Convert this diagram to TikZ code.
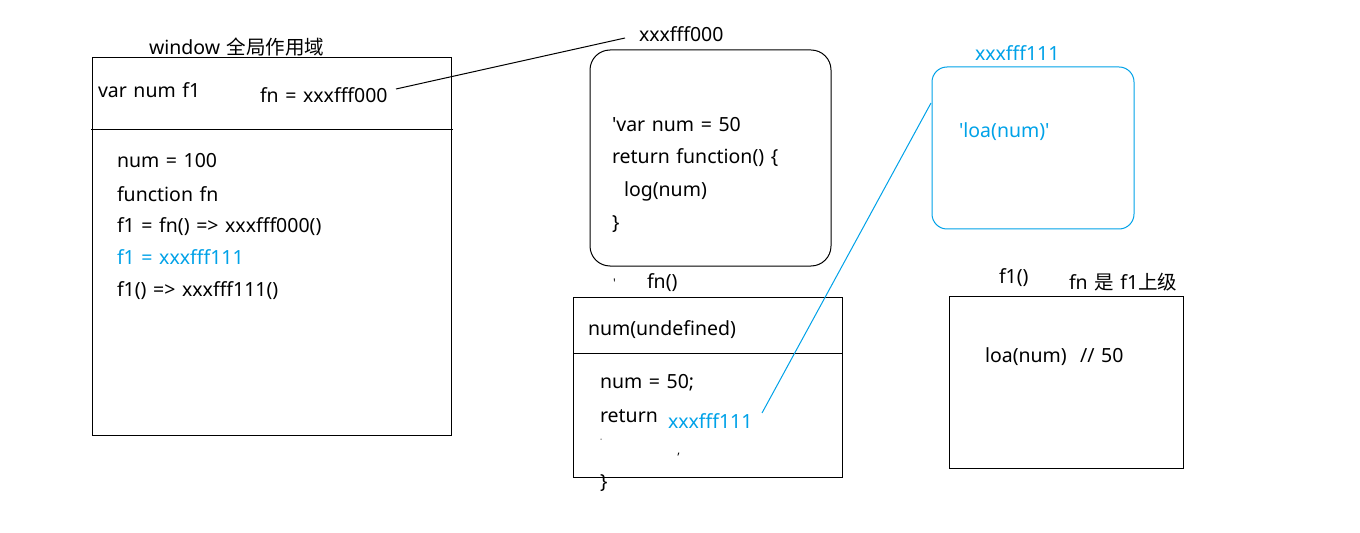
\documentclass[tikz,border=0pt]{standalone}
\usepackage{fontspec}
\newfontfamily\lat{Noto Sans}[WordSpace=1.3]
\newfontfamily\cjk{Noto Sans CJK SC}
\definecolor{paintblue}{RGB}{0,162,232}
\begin{document}
\begin{tikzpicture}[x=1bp,y=-1bp,
  every node/.style={inner sep=0pt,outer sep=0pt,font=\lat\fontsize{19.5bp}{22bp}\selectfont},
  txt/.style={anchor=west},
  bl/.style={txt,text=paintblue},
  box/.style={draw,line width=1bp},
  bbox/.style={draw=paintblue,line width=1bp},
  conn/.style={line width=1bp}]
\useasboundingbox[fill=white] (0,0) rectangle (1360,533);
% window scope
\node[txt] (wt) at (149,47) {window {\cjk 全局作用域}};
\draw[box] (92,58) rectangle (451,435);
\draw[box] (91,130) -- (453,130);
\node[txt] (v1) at (98,90) {var num f1};
\node[txt] (fnx) at (260,95) {fn = xxxfff000};
\node[txt] at (117,161) {num = 100};
\node[txt] at (117,194) {function fn};
\node[txt] at (117,227) {f1 = fn() => xxxfff000()};
\node[bl] at (117,257) {f1 = xxxfff111};
\node[txt] at (117,291) {f1() => xxxfff111()};
% heap xxxfff000
\node[txt] (h0) at (639,34) {xxxfff000};
\draw[box,rounded corners=20bp] (590,50) rectangle (831,266);
\node[txt] at (612,125) {'var num = 50};
\node[txt] at (612,158) {return function() \{};
\node[txt] at (624,191) {log(num)};
\node[txt] at (612,224) {\}};
\coordinate (c0a) at (396,89);
\coordinate (c0b) at (625,38);
\draw[conn] (c0a) -- (c0b);
% fn() scope
\node[txt] at (613,283) {\fontsize{12bp}{12bp}\selectfont '};
\node[txt] at (647,283) {fn()};
\draw[box] (573,297) rectangle (842,477);
\draw[box] (574,353) -- (842,353);
\node[txt] at (588,330) {num(undefined)};
\node[txt] at (600,383) {num = 50;};
\node[txt] at (600,416) {return};
\node[bl] (r1) at (668,421) {xxxfff111};
\node[txt] at (600,441) {\fontsize{8bp}{8bp}\selectfont ·};
\node[txt] at (677,455) {\fontsize{12bp}{12bp}\selectfont ,};
\node[txt] at (600,483) {\}};
% heap xxxfff111
\node[bl] (h1) at (975,53) {xxxfff111};
\draw[bbox,rounded corners=15bp] (932,67) rectangle (1134,229);
\node[bl] at (959,132) {'loa(num)'};
\coordinate (c1a) at (762,413);
\coordinate (c1b) at (931,103);
\draw[conn,paintblue] (c1a) -- (c1b);
% f1() scope
\node[txt] at (999,278) {f1()};
\node[txt] at (1069,282) {fn {\cjk 是} f1{\cjk 上级}};
\draw[box] (949,296) rectangle (1183,468);
\node[txt] at (985,357) {loa(num)\ \ // 50};
\end{tikzpicture}
\end{document}
